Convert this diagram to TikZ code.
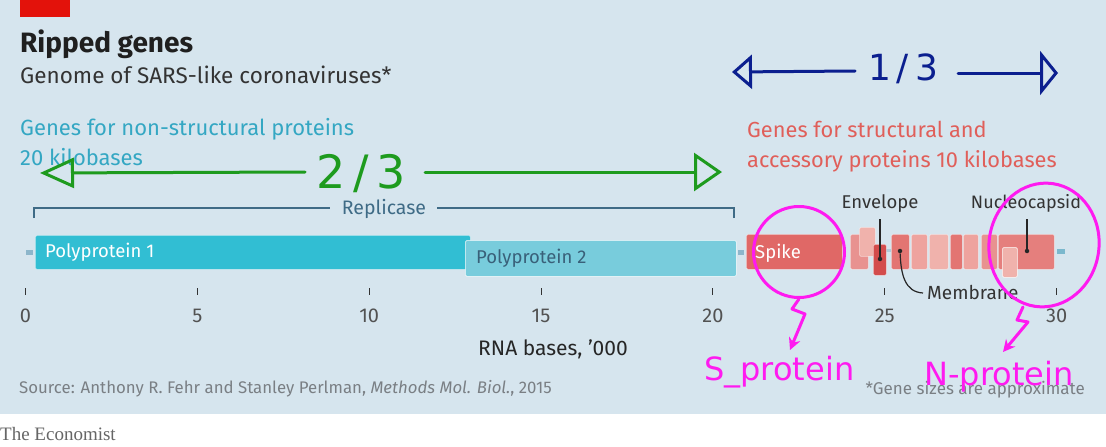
\documentclass[tikz,border=0pt]{standalone}
\usepackage{fontspec}
\setmainfont{Fira Sans}
\newfontfamily\econserif{Liberation Serif}
\newfontfamily\handfont{DejaVu Sans}
\usetikzlibrary{arrows.meta,shapes.geometric}
\definecolor{bg}{HTML}{D6E5EE}
\definecolor{econred}{HTML}{E3120B}
\definecolor{tealA}{HTML}{31BED3}
\definecolor{tealB}{HTML}{78CCDC}
\definecolor{tealtxt}{HTML}{34A7C3}
\definecolor{redtxt}{HTML}{E05F5A}
\definecolor{brack}{HTML}{3F6B86}
\definecolor{utr}{HTML}{8DB6CB}
\definecolor{sp}{HTML}{E06866}
\definecolor{rA}{HTML}{E89290}
\definecolor{rB}{HTML}{F0B2AC}
\definecolor{rC}{HTML}{D34C4C}
\definecolor{rD}{HTML}{E37572}
\definecolor{rE}{HTML}{EEA39E}
\definecolor{darktxt}{HTML}{333333}
\definecolor{greytxt}{HTML}{7A7F84}
\definecolor{handgreen}{HTML}{1E9B1E}
\definecolor{handblue}{HTML}{0B1F8F}
\definecolor{handmag}{HTML}{FF1AF0}
\tikzset{
  txt/.style={inner sep=0pt, anchor=base west},
  gene/.style={rounded corners=1.5pt, inner sep=0pt, anchor=north west, draw=white, draw opacity=0.35, line width=0.8pt},
  utrbox/.style={fill=utr, inner sep=0pt, minimum width=7pt, minimum height=5pt},
  dotn/.style={circle, fill=black!85, inner sep=0pt, minimum size=4.5pt},
  tick/.style={draw=darktxt, line width=1pt},
  ticklab/.style={inner sep=0pt, anchor=base, font=\fontsize{20}{24}\selectfont, text=darktxt!85},
  hand/.style={line width=3pt, line cap=round, line join=round},
}
\begin{document}
\begin{tikzpicture}[x=1pt,y=-1pt]
\useasboundingbox (0,0) rectangle (1106,447);
\fill[white] (0,0) rectangle (1106,447);
\fill[bg] (0,0) rectangle (1106,414);
\fill[econred] (20,0) rectangle (70,17);

% titles
\node[txt, font=\bfseries\fontsize{28}{32}\selectfont, text=black!88] (title) at (20,52) {Ripped genes};
\node[txt, font=\fontsize{22.5}{26}\selectfont, text=darktxt] (sub) at (20,83) {Genome of SARS-like coronaviruses*};

\node[txt, font=\fontsize{22}{26}\selectfont, text=tealtxt] (nsA) at (20,135) {Genes for non-structural proteins};
\node[txt, font=\fontsize{22}{26}\selectfont, text=tealtxt] (nsB) at (20,165) {20 kilobases};
\node[txt, font=\fontsize{21.8}{26}\selectfont, text=redtxt] (stA) at (747,137) {Genes for structural and};
\node[txt, font=\fontsize{21.8}{26}\selectfont, text=redtxt] (stB) at (747,167) {accessory proteins 10 kilobases};

% replicase bracket
\node[txt, anchor=base, font=\fontsize{19.5}{22}\selectfont, text=brack] (rep) at (384,214) {Replicase};
\coordinate (bl) at (34,218);
\coordinate (br) at (734,218);
\draw[brack, line width=1.3pt] (bl) |- (330,208);
\draw[brack, line width=1.3pt] (br) |- (437,208);

% non-coding bits
\node[utrbox] (u1) at (29,252) {};
\node[utrbox, minimum width=6pt] (u2) at (741,252) {};
\node[utrbox, fill=utr!80!tealA, minimum width=8pt] (u3) at (1061,251) {};
\node[utrbox, fill=utr!70!white, minimum width=5pt, minimum height=3pt] (u4) at (888,250) {};

% polyproteins
\node[gene, fill=tealA, minimum width=435pt, minimum height=34pt] (pp1) at (35,235) {};
\node[gene, fill=tealB, draw=white, draw opacity=0.6, minimum width=271pt, minimum height=36pt] (pp2) at (465,240) {};
\node[txt, font=\fontsize{18.5}{22}\selectfont, text=white] (pp1t) at (45,257) {Polyprotein 1};
\node[txt, font=\fontsize{18.5}{22}\selectfont, text=brack!90!black] (pp2t) at (476,263) {Polyprotein 2};

% structural genes
\node[gene, fill=sp, minimum width=96pt, minimum height=35pt] (spike) at (746,234) {};
\node[txt, font=\fontsize{18.5}{22}\selectfont, text=white] (spt) at (755,258) {Spike};
\node[gene, fill=rA, minimum width=18pt, minimum height=35pt] (g1) at (850,234) {};
\node[gene, fill=rB, minimum width=16pt, minimum height=29pt] (g2) at (859,227) {};
\node[gene, fill=rC, minimum width=13pt, minimum height=31pt] (env) at (873,244) {};
\node[gene, fill=rD, minimum width=18pt, minimum height=35pt] (mem) at (891,234) {};
\node[gene, fill=rE, minimum width=16pt, minimum height=35pt] (g3) at (911,234) {};
\node[gene, fill=rB, minimum width=19pt, minimum height=35pt] (g4) at (929,234) {};
\node[gene, fill=rD, minimum width=12pt, minimum height=35pt] (g5) at (950,234) {};
\node[gene, fill=rE, minimum width=15pt, minimum height=35pt] (g6) at (963,234) {};
\node[gene, fill=rA, minimum width=16pt, minimum height=35pt] (g7) at (981,234) {};
\node[gene, fill=sp!85!white, minimum width=56pt, minimum height=35pt] (nuc) at (998,234) {};
\node[gene, fill=rB, draw=white, draw opacity=0.6, minimum width=15pt, minimum height=30pt] (g8) at (1002,247) {};

% labels
\node[txt, anchor=base, font=\fontsize{18.5}{21}\selectfont, text=darktxt] (envl) at (880,208) {Envelope};
\node[txt, anchor=base, font=\fontsize{18}{21}\selectfont, text=darktxt] (nucl) at (1026,208) {Nucleocapsid};
\node[txt, font=\fontsize{19}{21}\selectfont, text=darktxt] (meml) at (927,299) {Membrane};
\node[dotn] (envd) at (880,259) {};
\node[dotn] (memd) at (900,251) {};
\node[dotn] (nucd) at (1027,251) {};
\draw[black!85, line width=1.2pt] (envd) -- (880,219);
\draw[black!85, line width=1.2pt] (nucd) -- (1027,219);
\draw[black!85, line width=1.2pt] (memd) .. controls (901,275) and (905,292) .. (923,293);

% axis
\foreach \k in {0,5,...,30} {
  \draw[tick] ({25.5+34.37*\k},288) -- ({25.5+34.37*\k},295);
  \node[ticklab] at ({25.5+34.37*\k},322) {\k};
}
\node[txt, anchor=base, font=\fontsize{21}{24}\selectfont, text=black!85] (axl) at (553,355) {RNA bases, ’000};

% source
\node[txt, font=\fontsize{16.8}{20}\selectfont, text=greytxt] (src) at (19,393) {Source: Anthony R. Fehr and Stanley Perlman, \textit{Methods Mol. Biol.}, 2015};
\node[txt, anchor=base east, font=\fontsize{17}{20}\selectfont, text=greytxt] (note) at (1085,394) {*Gene sizes are approximate};
\node[txt, font=\econserif\fontsize{19}{22}\selectfont, text=black!60] (econ) at (0,440) {The Economist};

% hand annotations: green
\coordinate (gL1) at (305,172);
\coordinate (gL2) at (40,173);
\coordinate (gR1) at (425,172);
\coordinate (gR2) at (722,172);
\draw[hand, handgreen, -{Triangle[open, length=34pt, width=30pt, line width=3pt]}] (gL1) -- (gL2);
\draw[hand, handgreen, -{Triangle[open, length=28pt, width=38pt, line width=3pt]}] (gR1) -- (gR2);
\node[txt, anchor=base, font=\handfont\fontsize{46}{50}\selectfont, text=handgreen] (g23) at (361,188) {2\,/\,3};

% blue
\coordinate (bL1) at (855,71);
\coordinate (bL2) at (732,72);
\coordinate (bR1) at (958,73);
\coordinate (bR2) at (1058,73);
\draw[hand, handblue, -{Triangle[open, length=20pt, width=34pt, line width=3pt]}] (bL1) -- (bL2);
\draw[hand, handblue, -{Triangle[open, length=18pt, width=44pt, line width=3pt]}] (bR1) -- (bR2);
\node[txt, anchor=base, font=\handfont\fontsize{36}{40}\selectfont, text=handblue] (b13) at (903,80) {1\,/\,3};

% magenta
\node[draw=handmag, line width=3pt, circle, minimum size=91pt, inner sep=0pt] (cs) at (799,252) {};
\node[draw=handmag, line width=3pt, ellipse, minimum width=110pt, minimum height=124pt, inner sep=0pt, rotate=-8] (cn) at (1044,245) {};
\draw[hand, handmag, -{Stealth[length=12pt, width=12pt]}] (cs.south) -- (792,309) -- (805,314) -- (790,350);
\draw[hand, handmag, -{Stealth[length=12pt, width=12pt]}] (1023,307) -- (1017,320) -- (1028,322) -- (1003,352);
\node[txt, font=\handfont\fontsize{32}{36}\selectfont, text=handmag] (sprot) at (704,380) {S\_protein};
\node[txt, font=\handfont\fontsize{32}{36}\selectfont, text=handmag] (nprot) at (924,385) {N-protein};
\end{tikzpicture}
\end{document}
